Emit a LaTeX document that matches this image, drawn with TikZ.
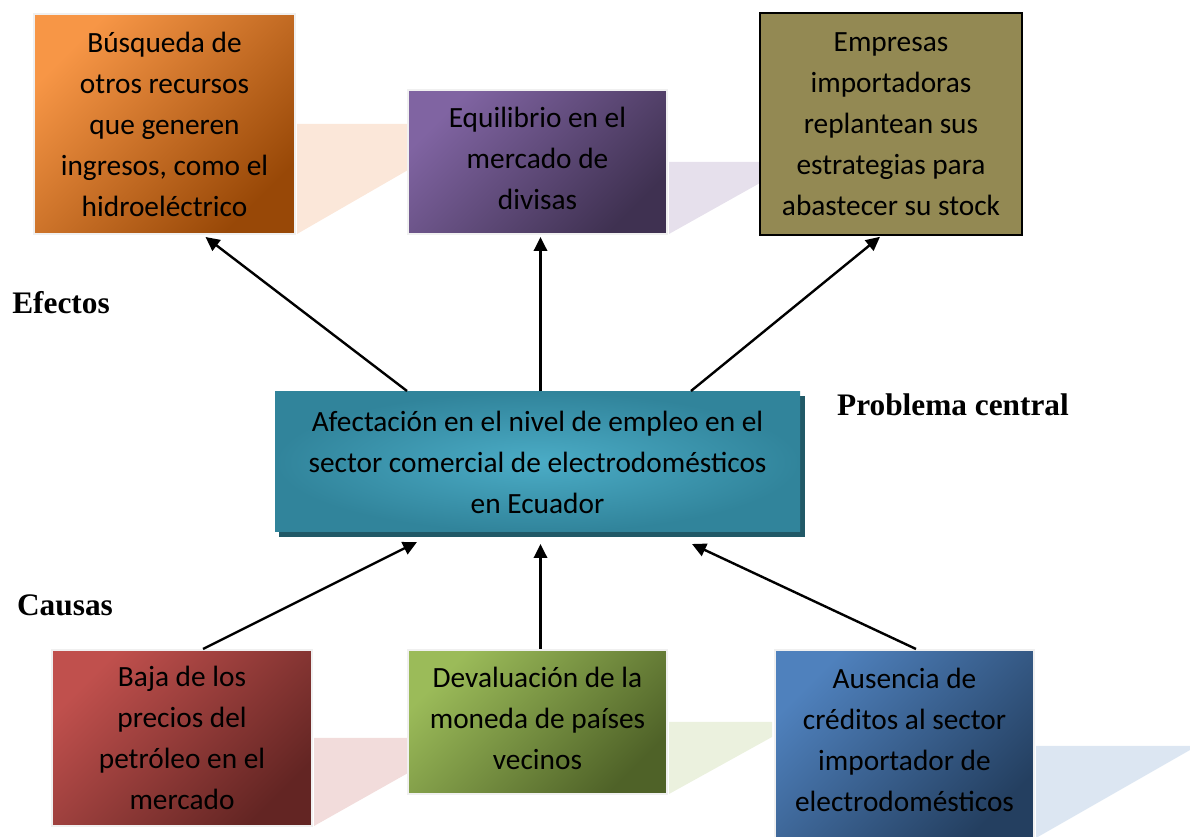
\documentclass[tikz,border=0pt]{standalone}
\usepackage{fontspec}
\setmainfont{Liberation Serif}
\newfontfamily\cajafont{Carlito}
\usetikzlibrary{arrows.meta}
\usetikzlibrary{calc}

\definecolor{naranjaA}{HTML}{F79646}
\definecolor{naranjaB}{HTML}{984807}
\definecolor{moradoA}{HTML}{8064A2}
\definecolor{moradoB}{HTML}{3F3151}
\definecolor{oliva}{HTML}{938953}
\definecolor{tealA}{HTML}{4BACC6}
\definecolor{tealB}{HTML}{31849B}
\definecolor{tealS}{HTML}{215967}
\definecolor{rojoA}{HTML}{C0504D}
\definecolor{rojoB}{HTML}{632523}
\definecolor{verdeA}{HTML}{9BBB59}
\definecolor{verdeB}{HTML}{4F6228}
\definecolor{azulA}{HTML}{4F81BD}
\definecolor{azulB}{HTML}{243F60}
\definecolor{sombraN}{HTML}{FBE7D9}
\definecolor{sombraM}{HTML}{E6E0EC}
\definecolor{sombraR}{HTML}{F2DCDB}
\definecolor{sombraV}{HTML}{EBF1DE}
\definecolor{sombraA}{HTML}{DCE6F2}
\definecolor{borde}{HTML}{F0F0F0}

\begin{document}
\begin{tikzpicture}[x=0.75pt,y=-0.75pt,
	caja/.style={rectangle,inner sep=0pt,align=center,draw=borde,line width=1.5pt,
		font=\cajafont\fontsize{22}{30.75}\selectfont},
	grad/.style 2 args={top color=#1,bottom color=#2,shading angle=45},
	flecha/.style={line width=1.8pt,-{Triangle[length=10.5pt,width=10pt]}},
	titulo/.style={font=\fontsize{23.5}{28}\selectfont\bfseries}]
	\useasboundingbox (0,0) rectangle (1190,837);
	% sombras de perspectiva
	\fill[sombraN] (297,124) -- (408,124) -- (408,170) -- (297,234) -- cycle;
	\fill[sombraM] (669,162) -- (760,162) -- (760,183) -- (669,234) -- cycle;
	\fill[sombraR] (314,738) -- (408,738) -- (408,773) -- (314,826) -- cycle;
	\fill[sombraV] (669,722) -- (772,722) -- (772,737) -- (669,794) -- cycle;
	\fill[sombraA] (1036,746) -- (1190,746) -- (1190,750) -- (1036,838) -- cycle;
	% efectos
	\node[caja,grad={naranjaA}{naranjaB},minimum width=195.75pt,minimum height=165pt] (busqueda) at (164.5,124)
		{Búsqueda de\\otros recursos\\que generen\\ingresos, como el\\hidroeléctrico};
	\node[caja,grad={moradoA}{moradoB},minimum width=194.25pt,minimum height=108pt,text depth=6pt] (equilibrio) at (537.5,162)
		{Equilibrio en el\\mercado de\\divisas};
	\node[caja,fill=oliva,draw=black,line width=1.2pt,minimum width=196.5pt,minimum height=166.5pt] (empresas) at (891,124)
		{Empresas\\importadoras\\replantean sus\\estrategias para\\abastecer su stock};
	% problema central
	\fill[tealS] (279,396) rectangle (805,537);
	\node[caja,draw=none,inner color=tealA,outer color=tealB,minimum width=393.75pt,minimum height=105pt] (centro) at (537.5,462)
		{Afectación en el nivel de empleo en el\\sector comercial de electrodomésticos\\en Ecuador};
	% causas
	\node[caja,grad={rojoA}{rojoB},minimum width=195pt,minimum height=132pt] (baja) at (182,738)
		{Baja de los\\precios del\\petróleo en el\\mercado};
	\node[caja,grad={verdeA}{verdeB},minimum width=194.25pt,minimum height=108pt,text depth=6pt] (devaluacion) at (537.5,722)
		{Devaluación de la\\moneda de países\\vecinos};
	\node[caja,grad={azulA}{azulB},minimum width=194.25pt,minimum height=142.5pt,text depth=7.5pt] (ausencia) at (904.5,745)
		{Ausencia de\\créditos al sector\\importador de\\electrodomésticos};
	\node[titulo] (efectos) at (61,303) {Efectos};
	\node[titulo] (problema) at (953,405) {Problema central};
	\node[titulo] (causas) at (65,605) {Causas};
	% flechas
	\draw[flecha] ($(centro.north west)+(133,0)$) -- ($(busqueda.south)+(41,2)$);
	\draw[flecha] ($(centro.north)+(3,0)$) -- ($(equilibrio.south)+(3,2)$);
	\draw[flecha] ($(centro.north west)+(417,0)$) -- ($(empresas.south)+(-11,1)$);
	\draw[flecha] ($(baja.north)+(21,0)$) -- ($(centro.south west)+(143,9)$);
	\draw[flecha] ($(devaluacion.north)+(3,0)$) -- ($(centro.south)+(3,11)$);
	\draw[flecha] ($(ausencia.north)+(11.5,0)$) -- ($(centro.south west)+(418,11)$);
\end{tikzpicture}
\end{document}
